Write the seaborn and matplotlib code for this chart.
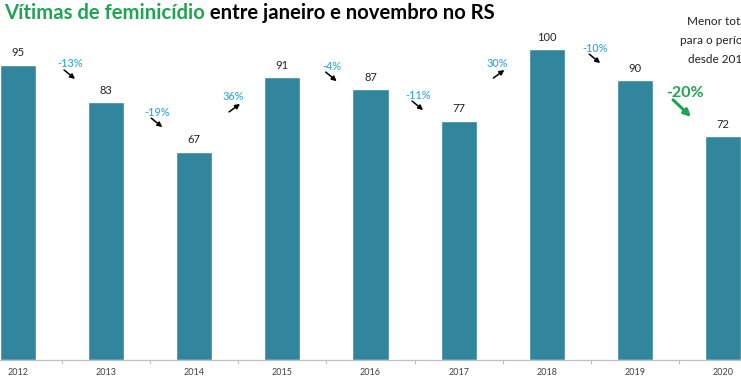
import matplotlib
matplotlib.use("Agg")
import matplotlib.pyplot as plt
from matplotlib.transforms import offset_copy
import seaborn as sns

# data
years = ["2012", "2013", "2014", "2015", "2016", "2017", "2018", "2019", "2020"]
victims = [95, 83, 67, 91, 87, 77, 100, 90, 72]
changes = ["-13%", "-19%", "36%", "-4%", "-11%", "30%", "-10%", "-20%"]

# label placement (data coords) for the year-on-year changes
change_pos = [(0.59, 95.2), (1.58, 79.7), (2.44, 84.6), (3.56, 94.5),
              (4.54, 85.2), (5.44, 95.5), (6.55, 100.3), (7.57, 85.9)]

BAR = "#31859C"
BLUE = "#3aaedc"
GREEN = "#1ea552"

sns.set_theme(style="white")
plt.rcParams["font.family"] = ["Lato", "DejaVu Sans"]

fig = plt.figure(figsize=(7.41, 3.8), dpi=100)
ax = fig.add_axes([0, 20 / 380, 1, 320 / 380])

sns.barplot(x=years, y=victims, color=BAR, saturation=1, width=0.41, ax=ax)
ax.bar_label(ax.containers[0], padding=4.5, fontsize=8, color="#222222")

ax.set_xlim(-0.205, 8.205)
ax.set_ylim(0, 102.9)
ax.set_yticks([])
ax.set_xlabel("")
ax.set_ylabel("")
for s in ["top", "left", "right"]:
    ax.spines[s].set_visible(False)
ax.spines["bottom"].set_color("#c0c0c0")
ax.spines["bottom"].set_linewidth(0.9)

ax.set_xticks(range(len(years)))
ax.set_xticklabels(years, fontsize=6.5, color="#404040")
ax.set_xticks([i + 0.5 for i in range(len(years) - 1)], minor=True)
ax.tick_params(axis="x", which="major", length=0, pad=6)
ax.tick_params(axis="x", which="minor", length=3, width=0.8, color="#c0c0c0",
               direction="out", bottom=True)

# percent labels with little arrows
for i, (txt, (tx, ty)) in enumerate(zip(changes, change_pos)):
    last = i == len(changes) - 1
    up = not txt.startswith("-")
    ax.text(tx, ty, txt, ha="center", va="center",
            fontsize=11.5 if last else 7.8,
            color=GREEN if last else BLUE,
            fontweight="bold" if last else "semibold")
    if last:
        start, end, col, lw, ms = (-12, 7), (6, 24), GREEN, 2.2, 10
    elif up:
        start, end, col, lw, ms = (-4, 15), (7, 7), "black", 1.1, 7
    else:
        start, end, col, lw, ms = (-6, 6), (5, 15), "black", 1.1, 7
    tr = offset_copy(ax.transData, fig=fig, x=end[0], y=-end[1], units="dots")
    ax.annotate("", xy=(tx, ty), xycoords=tr,
                xytext=(start[0] - end[0], -(start[1] - end[1])),
                textcoords="offset pixels",
                arrowprops=dict(arrowstyle="-|>", color=col, lw=lw,
                                mutation_scale=ms, shrinkA=0, shrinkB=0))

# title in two colours
t1 = fig.text(4 / 741, 1 - 19 / 380, "Vítimas de feminicídio", color=GREEN,
              fontsize=14.6, fontweight="bold", va="baseline", ha="left")
ax.annotate(" entre janeiro e novembro no RS", xy=(1, 0), xycoords=t1,
            va="bottom", ha="left", fontsize=14.6, fontweight="bold",
            color="black", annotation_clip=False)

fig.text(718 / 741, 1 - 16 / 380, "Menor total\npara o período\ndesde 2012",
         ha="center", va="top", fontsize=8.5, color="#222222",
         linespacing=1.9, multialignment="center")

fig.savefig("out.png", dpi=100)
